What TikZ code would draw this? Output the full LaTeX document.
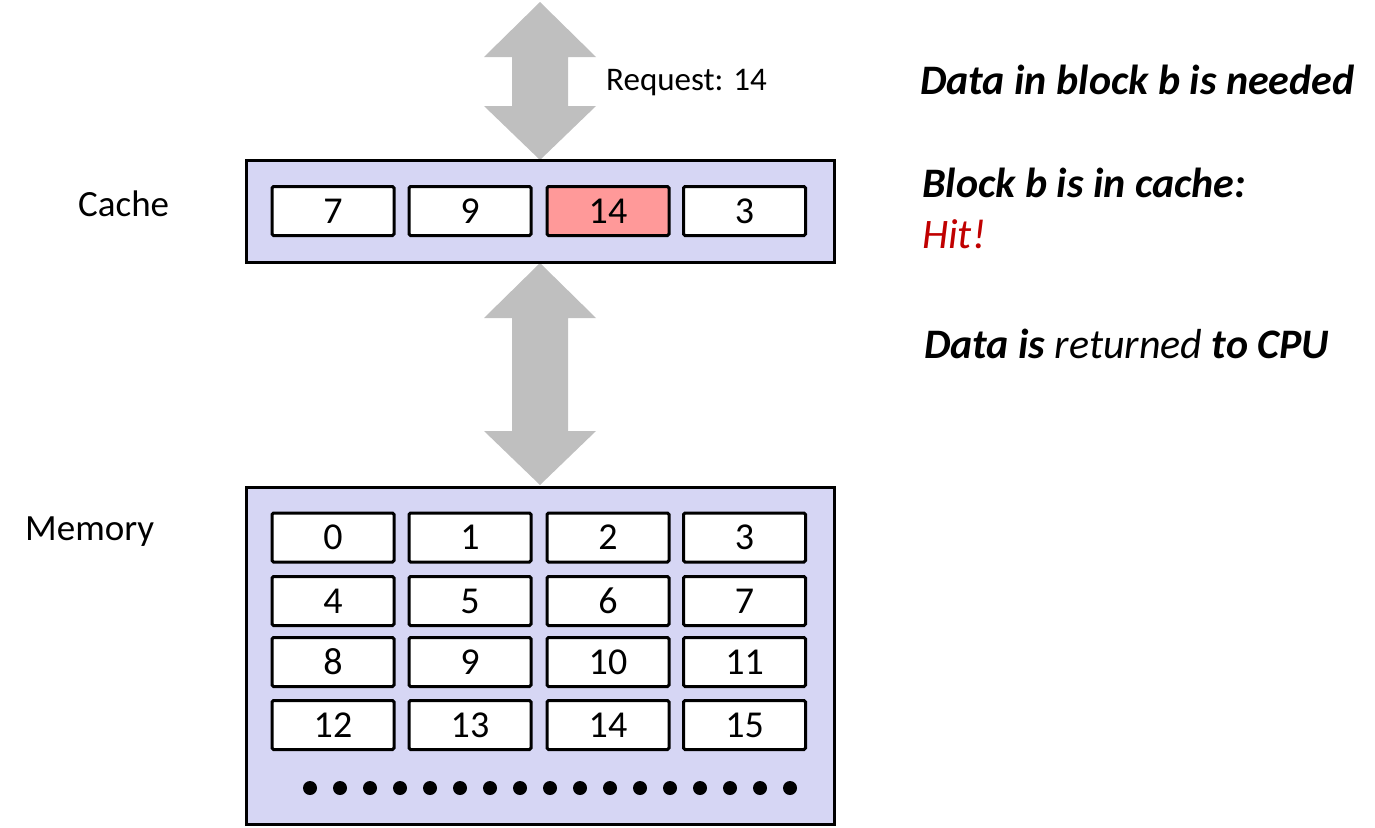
\documentclass[tikz,border=0pt]{standalone}
\usepackage{fontspec}
\setmainfont{Carlito}
\definecolor{boxfill}{RGB}{214,214,244}
\definecolor{hitpink}{RGB}{255,153,153}
\definecolor{arrowgray}{RGB}{191,191,191}
\definecolor{hitred}{RGB}{192,0,0}
\begin{document}
\begin{tikzpicture}[x=1pt,y=-1pt,
  outerbox/.style={draw=black,line width=3pt,fill=boxfill,inner sep=0pt,outer sep=0pt},
  cell/.style={draw=black,line width=3pt,fill=white,rounded corners=1.5pt,minimum width=122pt,minimum height=49pt,inner sep=0pt,font=\fontsize{38}{38}\selectfont},
  bigarrow/.style={fill=arrowgray,draw=none},
  lbl/.style={anchor=west,inner sep=0pt,font=\fontsize{37}{37}\selectfont},
  note/.style={anchor=west,inner sep=0pt,font=\fontsize{42}{42}\selectfont\bfseries\itshape}]
\useasboundingbox (0,0) rectangle (1375,827);
% arrows
\draw[bigarrow] (540,2) -- (596,57) -- (568,57) -- (568,106) -- (596,106) -- (540,160) -- (484,106) -- (512,106) -- (512,57) -- (484,57) -- cycle;
\draw[bigarrow] (540,263) -- (596,318) -- (568,318) -- (568,431) -- (596,431) -- (540,485) -- (484,431) -- (512,431) -- (512,318) -- (484,318) -- cycle;
% cache
\node[outerbox,minimum width=588pt,minimum height=102pt] (cache) at (540,211) {};
\node[cell] (c1) at (333,211) {7};
\node[cell] (c2) at (470,211) {9};
\node[cell,fill=hitpink] (c3) at (608,211) {14};
\node[cell] (c4) at (744.5,211) {3};
% memory
\node[outerbox,minimum width=588pt,minimum height=337pt] (mem) at (540,655.5) {};
\foreach \r/\y in {0/537.5,1/601,2/662,3/725}{
  \foreach \c/\x in {0/333,1/470,2/608,3/744.5}{
    \pgfmathtruncatemacro{\n}{4*\r+\c}
    \node[cell] (m\n) at (\x,\y) {\n};
  }
}
\foreach \i in {0,...,16}{
  \fill (310+30*\i,788) circle (7pt);
}
% labels
\node[lbl] (lcache) at (78,204) {Cache};
\node[lbl] (lmem) at (25,532) {Memory};
\node[lbl,font=\fontsize{33}{33}\selectfont] (req) at (606,83) {Request: 14};
\node[note] (n1) at (920,80) {Data in block b is needed};
\node[note] (n2) at (922,183) {Block b is in cache:};
\node[note,font=\fontsize{42}{42}\selectfont\itshape,text=hitred] (n3) at (922,234) {Hit!};
\node[note] (n4) at (924,344) {Data is \textmd{returned} to CPU};
\end{tikzpicture}
\end{document}
